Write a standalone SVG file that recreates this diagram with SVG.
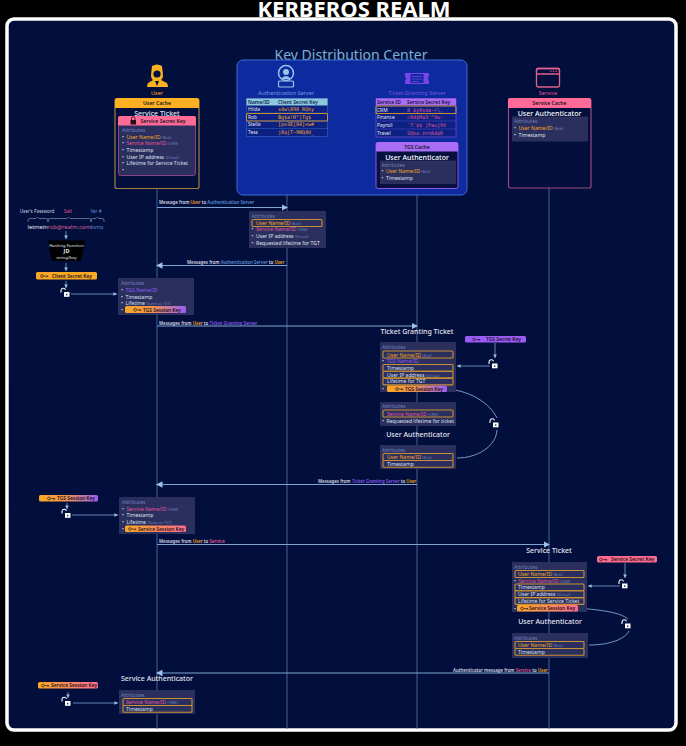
<svg xmlns="http://www.w3.org/2000/svg" width="686" height="746" viewBox="0 0 686 746">
<style>
text{font-family:"Noto Sans","Open Sans","Liberation Sans",sans-serif;fill:#e6e8f2}
.title{font-size:22px;font-weight:700;fill:#fff;text-anchor:middle}
.kdc{font-size:14px;fill:#7fb0d6;text-anchor:middle}
.h{font-size:7px;font-weight:500;fill:#e2e5f0;text-anchor:middle}
.lab{font-size:5.5px;text-anchor:middle}
.sm{font-size:4.500px;text-anchor:middle;fill:#cfd4e4}
.cap{font-size:5.1px;fill:#14121c;text-anchor:middle;font-weight:600}
.a{font-size:5.1px;fill:#dfe2ee;white-space:pre}
.at{font-size:5px;fill:#6f80b8}
.n{font-size:3.700px;fill:#6f80b8}
.m{font-size:4.400px;font-weight:600;fill:#d6dae8}
.t{font-size:4.900px}
.k{font-size:5px;font-family:"DejaVu Sans Mono","Liberation Mono",monospace}
.o{fill:#f5a623}.p{fill:#e0559a}.v{fill:#8a5cf0}.b{fill:#5f90d8}
.blk{fill:#2a2f5e}
.hl{fill:none;stroke:#c98f35;stroke-width:1.1}
.life{stroke:#4f6e9f;stroke-width:.9;fill:none}
.msg{stroke:#7fa6d2;stroke-width:1.1;fill:none;marker-end:url(#ah)}
.thin{stroke:#6d90bf;stroke-width:.9;fill:none;marker-end:url(#ah2)}
.pill{font-size:4.900px;font-weight:600;fill:#15121c}
</style>
<defs>
<marker id="ah" markerWidth="6" markerHeight="6" refX="5" refY="3" orient="auto"><path d="M0 0L6 3L0 6Z" fill="#9cc0e6"/></marker>
<marker id="ah2" markerWidth="5" markerHeight="5" refX="4" refY="2.5" orient="auto"><path d="M0 .5L4 2.5L0 4.5Z" fill="#9cc0e6"/></marker>
<linearGradient id="op"><stop offset="0" stop-color="#f9a825"/><stop offset=".45" stop-color="#f0924a"/><stop offset="1" stop-color="#9a5cf6"/></linearGradient>
<linearGradient id="opk"><stop offset="0" stop-color="#f9a825"/><stop offset="1" stop-color="#ff6b8f"/></linearGradient>
<g id="key"><circle cx="2" cy="2" r="1.4" fill="none" stroke="#15121c" stroke-width=".6"/><path d="M3.4 2H8M6.6 2V3.2M7.800 2V3.2" stroke="#15121c" stroke-width=".6" fill="none"/></g>
<g id="unlock"><path d="M-5-1V-3A2.300 2.300 0 0 1-.5-3.600" fill="none" stroke="#fff" stroke-width="1.100"/><rect x="-2" y="-1.500" width="5.500" height="4.800" fill="#fff"/><rect x=".2" y=".3" width="1.100" height="1.600" fill="#02103a"/></g>
</defs>

<rect width="686" height="746" fill="#000"/>
<rect x="7" y="19" width="669" height="711" rx="7" fill="#020e3b" stroke="#fff" stroke-width="3.500"/>
<text class="title" x="354" y="17">KERBEROS REALM</text>

<g id="connectors">
<path class="life" d="M157 188V729M287 195V729M417 195V729M549 188V729"/>
<path class="msg" d="M157 207.500H287"/>
<path class="msg" d="M287 265.500H157"/>
<path class="msg" d="M157 326H417"/>
<path class="msg" d="M417 484.500H157"/>
<path class="msg" d="M157 544.500H549"/>
<path class="msg" d="M549 673H157"/>
<path class="thin" d="M66 231V239"/><path class="thin" d="M66 263V271"/><path class="thin" d="M66 281V288"/>
<path class="thin" d="M71 294H117"/>
<path class="thin" d="M495 343V358"/><path class="thin" d="M490 366H457"/>
<path class="thin" d="M67 503V509"/><path class="thin" d="M72 515H118"/>
<path class="thin" d="M625 563V578"/><path class="thin" d="M620 586H588"/>
<path class="thin" d="M68 692V698"/><path class="thin" d="M73 703H118"/>
<path d="M447 389C472 391 490 404 497 418" fill="none" stroke="#7fa6d2" stroke-width=".9"/>
<path d="M497 430C496 446 478 458 457 458" fill="none" stroke="#7fa6d2" stroke-width=".9"/>
<path d="M578 608C600 610 620 612 628 619" fill="none" stroke="#7fa6d2" stroke-width=".9"/>
<path d="M629 631C625 639 610 645 589 645" fill="none" stroke="#7fa6d2" stroke-width=".9"/>
<text class="m" x="159" y="204">Message from <tspan class="o">User</tspan> to <tspan class="b">Authentication Server</tspan></text>
<text class="m" x="187" y="264">Messages from <tspan class="b">Authentication Server</tspan> to <tspan class="o">User</tspan></text>
<text class="m" x="159" y="325">Messages from <tspan class="o">User</tspan> to <tspan class="v">Ticket Granting Server</tspan></text>
<text class="m" x="318" y="483">Messages from <tspan class="v">Ticket Granting Server</tspan> to <tspan class="o">User</tspan></text>
<text class="m" x="159" y="543">Messages from <tspan class="o">User</tspan> to <tspan class="p">Service</tspan></text>
<text class="m" x="453" y="671.500">Authenticator message from <tspan class="p">Service</tspan> to <tspan class="o">User</tspan></text>
</g>

<g id="user">
<path d="M152 66Q157 63 162 66L163 75Q163 79 161 80L167 83Q168 85 168 87H147Q147 85 148 83L153 80Q151 79 151 75Z" fill="#f9b022"/>
<circle cx="157" cy="74" r="3.600" fill="#020e3b"/>
<path d="M155 81H159L157 86Z" fill="#020e3b"/>
<text class="lab o" x="157" y="94.500">User</text>
<rect x="115" y="98.500" width="84" height="90" rx="2" fill="#020e3b" stroke="#a47f45" stroke-width="1.200"/>
<path d="M115 108V100.500Q115 98 117 98H197Q199 98 199 100.500V108Z" fill="#fdb022"/>
<text class="cap" x="157" y="105">User Cache</text>
<text class="h" x="157" y="115.800">Service Ticket</text>
<rect x="118.500" y="116.500" width="77" height="59" rx="2" fill="#2a2f5e" stroke="#8e3f86" stroke-width="1"/>
<path d="M118 125.500V118Q118 116 120 116H194Q196 116 196 118V125.500Z" fill="#ff6b96"/>
<rect x="130.500" y="120" width="5.500" height="4.500" fill="#20101c"/><path d="M131.500 120V118.500A1.700 1.700 0 0 1 135 118.500V120" fill="none" stroke="#20101c" stroke-width=".8"/>
<text class="cap" x="163" y="122.800">Service Secret Key</text>
<text class="at" x="122" y="132">Attributes</text>
<text class="a" x="122" y="138.500">•  <tspan class="o">User Name/ID</tspan> <tspan class="n">(Bob)</tspan></text>
<text class="a" x="122" y="145">•  <tspan class="p">Service Name/ID</tspan> <tspan class="n">(CRM)</tspan></text>
<text class="a" x="122" y="152">•  Timestamp</text>
<text class="a" x="122" y="158.500">•  User IP address <tspan class="n">(Virtual)</tspan></text>
<text class="a" x="122" y="165">•  Lifetime for Service Ticket</text>
<text class="a" x="122" y="172">•</text>
</g>

<g id="kdc">
<text class="kdc" x="351" y="60">Key Distribution Center</text>
<rect x="237" y="60" width="230" height="135" rx="6" fill="#0d2a9e" stroke="#3d6fd0" stroke-width="1"/>
</g>

<g id="auth-server">
<circle cx="286" cy="73" r="7.500" fill="none" stroke="#9cc4e8" stroke-width="1.500"/>
<circle cx="286" cy="72" r="3" fill="#9cc4e8"/><path d="M281 79Q286 73 291 79Z" fill="#9cc4e8"/>
<rect x="278.500" y="81" width="15" height="6" rx="1" fill="none" stroke="#9cc4e8" stroke-width="1.200"/>
<text class="lab" x="286" y="94.500" style="fill:#6f9fe0">Authentication Server</text>
<rect x="246.500" y="98.500" width="81" height="38" fill="#0b2080" stroke="#3768c4" stroke-width=".6"/>
<rect x="246.500" y="98.500" width="81" height="7" fill="#8cc8de"/>
<path d="M246.500 113H327.500M246.500 121H327.500M246.500 128.500H327.500" stroke="#3768c4" stroke-width=".5"/>
<text class="t" x="248" y="104" style="fill:#0e1c4e;font-weight:600">Name/ID</text>
<text class="t" x="278" y="104" style="fill:#0e1c4e;font-weight:600">Client Secret Key</text>
<text class="t" x="248" y="110.500">Hilda</text><text class="k o" x="278" y="110.500">x4w\898_RQky</text>
<text class="t" x="248" y="118.500">Rob</text><text class="k o" x="278" y="118.500">Bg$a!R^)Tg$</text>
<text class="t" x="248" y="126">Stella</text><text class="k o" x="278" y="126">[p=3E[84]&lt;w#</text>
<text class="t" x="248" y="134">Tess</text><text class="k o" x="278" y="134">j8q]T~9NQ4U_</text>
<rect x="246.500" y="113.500" width="81" height="7.500" rx="1" class="hl"/>
</g>

<g id="tgs">
<path d="M405 73H429V76Q427 78.500 429 81V84H405V81Q407 78.500 405 76Z" fill="#7a45e8"/>
<rect x="410" y="73.500" width="14" height="10" fill="#0d2a9e" stroke="#7a45e8"/>
<path d="M412 76.500H422M412 79H422M412 81.500H419" stroke="#7a45e8" stroke-width=".8"/>
<text class="lab" x="417" y="94.500" style="fill:#7a55e8">Ticket Granting Server</text>
<rect x="376" y="98.500" width="80" height="38.500" fill="#0b2080" stroke="#8f55e8" stroke-width=".6"/>
<rect x="376" y="98.500" width="80" height="7" fill="#a86cf5"/>
<path d="M376 113.500H456M376 121H456M376 129H456" stroke="#5a4fd0" stroke-width=".5"/>
<text class="t" x="377" y="104" style="fill:#150e40;font-weight:600">Service ID</text>
<text class="t" x="407" y="104" style="fill:#150e40;font-weight:600">Service Secret Key</text>
<text class="t" x="377" y="111.500">CRM</text><text class="k p" x="407" y="111.500">8 $y9sda~(\,</text>
<text class="t" x="377" y="119">Finance</text><text class="k p" x="407" y="119">c84$Ma3'^Vw-</text>
<text class="t" x="377" y="127">Payroll</text><text class="k p" x="407" y="127">`7'$$ ]Pauj9V</text>
<text class="t" x="377" y="134.500">Travel</text><text class="k p" x="407" y="134.500">SQka.zn%64$R</text>
<rect x="376" y="106" width="80" height="7.500" rx="1" class="hl"/>
</g>

<g id="tgs-cache">
<rect x="376" y="142.500" width="82" height="46" rx="2" fill="#061140" stroke="#8f55e8" stroke-width="1"/>
<path d="M376 151.500V144Q376 142 378 142H456Q458 142 458 144V151.500Z" fill="#a86cf5"/>
<text class="cap" x="417" y="149">TGS Cache</text>
<text class="h" x="417" y="159.500" style="fill:#fff">User Authenticator</text>
<rect x="380" y="160.500" width="76" height="23.500" class="blk"/>
<text class="at" x="381.500" y="166.500">Attributes</text>
<text class="a" x="381.500" y="173">•  <tspan class="o">User Name/ID</tspan> <tspan class="n">(Bob)</tspan></text>
<text class="a" x="381.500" y="180">•  Timestamp</text>
</g>

<g id="service">
<rect x="536.500" y="68.500" width="23" height="18.500" rx="2" fill="none" stroke="#e0608f" stroke-width="1.300"/>
<rect x="536.500" y="68.500" width="23" height="5.500" rx="1" fill="none" stroke="#e0608f" stroke-width="1.300"/>
<path d="M550 71.200H551.500M552.700 71.200H554.200M555.400 71.200H556.900" stroke="#e0608f" stroke-width="1"/>
<text class="lab p" x="548" y="94.500">Service</text>
<rect x="508.500" y="98.500" width="82.500" height="89.500" rx="2" fill="#020e3b" stroke="#9a4a80" stroke-width="1.200"/>
<path d="M508 108V100Q508 98 510 98H589Q591 98 591 100V108Z" fill="#ff6b96"/>
<text class="cap" x="549.500" y="105">Service Cache</text>
<text class="h" x="549.500" y="116" style="fill:#fff">User Authenticator</text>
<rect x="512" y="116.500" width="76" height="25" class="blk"/>
<text class="at" x="514" y="123">Attributes</text>
<text class="a" x="514" y="130">•  <tspan class="o">User Name/ID</tspan> <tspan class="n">(Bob)</tspan></text>
<text class="a" x="514" y="137">•  Timestamp</text>
</g>

<g id="client-key-derivation">
<text class="sm" x="37" y="212.500">User's Password</text>
<text class="sm p" x="68" y="212.500">Salt</text>
<text class="sm b" x="96" y="212.500">Ver #</text>
<path d="M28 222V220Q28 218.500 30 218.500H36L37.500 217L39 218.500H46Q48 218.500 48 220V222M48 222V220Q48 218.500 50 218.500H67L68.500 217L70 218.500H89Q91 218.500 91 220V222M91 222V220Q91 218.500 93 218.500H96L97.500 217L99 218.500H102Q104 218.500 104 220V222" fill="none" stroke="#8fa4c8" stroke-width=".6"/>
<text x="27.500" y="229" style="font-size:5.700px">letmein<tspan style="fill:#d9679a">rob@realm.com</tspan><tspan class="b">kvno</tspan></text>
</g>
<g id="hashing-function">
<path d="M48 240.500H85L81 261H52Z" fill="#000"/>
<text x="66.500" y="246.500" text-anchor="middle" style="font-size:4.200px">Hashing Function</text>
<text x="66.500" y="252.500" text-anchor="middle" style="font-size:5.500px;font-weight:700">JD</text>
<text x="66.500" y="259" text-anchor="middle" style="font-size:4.200px">string2key</text>
</g>
<g id="client-secret-key">
<rect x="36" y="272" width="61" height="7.500" rx="1.500" fill="#f9a825"/>
<use href="#key" x="40" y="274"/>
<text class="pill" x="52" y="277.800">Client Secret Key</text>
</g>
<use href="#unlock" x="66" y="293.500"/>

<g id="msg2-attributes">
<rect x="249" y="211" width="77" height="37" class="blk"/>
<text class="at" x="251.500" y="217.500">Attributes</text>
<rect x="252" y="219.500" width="70" height="7" rx="1" class="hl"/>
<text class="a" x="256" y="225"><tspan class="o">User Name/ID</tspan> <tspan class="n">(Bob)</tspan></text>
<text class="a" x="251.500" y="231">•  <tspan class="p">Service Name/ID</tspan> <tspan class="n">(CRM)</tspan></text>
<text class="a" x="251.500" y="238">•  User IP address <tspan class="n">(Virtual)</tspan></text>
<text class="a" x="251.500" y="245">•  Requested lifetime for TGT</text>
</g>

<g id="tgs-session-response">
<rect x="118" y="278" width="76" height="37" class="blk"/>
<text class="at" x="121" y="285">Attributes</text>
<text class="a" x="121" y="292">•  <tspan class="v">TGS Name/ID</tspan></text>
<text class="a" x="121" y="298.500">•  Timestamp</text>
<text class="a" x="121" y="305">•  Lifetime <tspan class="n">(Same as TGT)</tspan></text>
<text class="a" x="121" y="312">•</text>
<rect x="125" y="306" width="61" height="7" rx="1.500" fill="url(#op)"/>
<use href="#key" x="133" y="307.800"/>
<text class="pill" x="143" y="311.600">TGS Session Key</text>
</g>

<g id="ticket-granting-ticket">
<text class="h" x="417" y="333.500">Ticket Granting Ticket</text>
<rect x="380" y="342" width="76" height="50" class="blk"/>
<text class="at" x="382" y="349">Attributes</text>
<rect x="383" y="351" width="70" height="7" rx="1" class="hl"/>
<text class="a" x="387" y="356.500"><tspan class="o">User Name/ID</tspan> <tspan class="n">(Bob)</tspan></text>
<text class="a" x="382" y="363">•  <tspan class="v">TGS Name/ID</tspan></text>
<rect x="383" y="364.500" width="70" height="6.800" rx="1" class="hl"/>
<text class="a" x="387" y="369.800">Timestamp</text>
<rect x="383" y="371.300" width="70" height="6.800" rx="1" class="hl"/>
<text class="a" x="387" y="376.600">User IP address <tspan class="n">(Virtual)</tspan></text>
<rect x="383" y="378.100" width="70" height="6.800" rx="1" class="hl"/>
<text class="a" x="387" y="383.400">Lifetime for TGT</text>
<text class="a" x="382" y="391">•</text>
<rect x="387" y="385.500" width="60" height="6.500" rx="1.500" fill="url(#op)"/>
<use href="#key" x="395" y="387"/>
<text class="pill" x="405" y="390.700">TGS Session Key</text>
</g>

<g id="tgs-secret-key">
<rect x="465" y="336" width="61" height="6.500" rx="1.500" fill="#9b5cf6"/>
<use href="#key" x="472" y="337.500"/>
<text class="pill" x="486" y="341.200">TGS Secret Key</text>
</g>
<use href="#unlock" x="494" y="365"/>

<g id="tgs-request-attributes">
<rect x="380" y="402" width="76" height="24" class="blk"/>
<text class="at" x="382" y="408">Attributes</text>
<rect x="383" y="410" width="70" height="7" rx="1" class="hl"/>
<text class="a" x="387" y="415.500"><tspan class="p">Service Name/ID</tspan> <tspan class="n">(CRM)</tspan></text>
<text class="a" x="382" y="422.500">•  Requested lifetime for ticket</text>
</g>
<use href="#unlock" x="495" y="424"/>

<g id="user-authenticator-tgs">
<text class="h" x="418" y="436.500">User Authenticator</text>
<rect x="380" y="445" width="76" height="24" class="blk"/>
<text class="at" x="382" y="451.500">Attributes</text>
<rect x="383" y="453.500" width="70" height="7" rx="1" class="hl"/>
<text class="a" x="387" y="459"><tspan class="o">User Name/ID</tspan> <tspan class="n">(Bob)</tspan></text>
<rect x="383" y="460.500" width="70" height="6.800" rx="1" class="hl"/>
<text class="a" x="387" y="465.800">Timestamp</text>
</g>

<g id="tgs-session-key-left">
<rect x="39" y="495" width="59" height="6.500" rx="1.500" fill="url(#op)"/>
<use href="#key" x="47" y="496.500"/>
<text class="pill" x="57" y="500.200">TGS Session Key</text>
</g>
<use href="#unlock" x="67" y="514.500"/>

<g id="service-session-response">
<rect x="119" y="497" width="76" height="37" class="blk"/>
<text class="at" x="122" y="504">Attributes</text>
<text class="a" x="122" y="510.500">•  <tspan class="p">Service Name/ID</tspan> <tspan class="n">(CRM)</tspan></text>
<text class="a" x="122" y="517">•  Timestamp</text>
<text class="a" x="122" y="524">•  Lifetime <tspan class="n">(Same as TGT)</tspan></text>
<text class="a" x="122" y="531">•</text>
<rect x="125" y="525.500" width="61" height="6.500" rx="1.500" fill="url(#opk)"/>
<use href="#key" x="128" y="527"/>
<text class="pill" x="138" y="530.700">Service Session Key</text>
</g>

<g id="service-ticket">
<text class="h" x="549" y="553">Service Ticket</text>
<rect x="512" y="562" width="75" height="50" class="blk"/>
<text class="at" x="514" y="569">Attributes</text>
<rect x="515" y="570.500" width="69" height="7" rx="1" class="hl"/>
<text class="a" x="518" y="576"><tspan class="o">User Name/ID</tspan> <tspan class="n">(Bob)</tspan></text>
<text class="a" x="514" y="582.500">•  <tspan class="p">Service Name/ID</tspan> <tspan class="n">(CRM)</tspan></text>
<rect x="515" y="584" width="69" height="6.800" rx="1" class="hl"/>
<text class="a" x="518" y="589.300">Timestamp</text>
<rect x="515" y="590.800" width="69" height="6.800" rx="1" class="hl"/>
<text class="a" x="518" y="596.100">User IP address <tspan class="n">(Virtual)</tspan></text>
<rect x="515" y="597.600" width="69" height="6.800" rx="1" class="hl"/>
<text class="a" x="518" y="602.900">Lifetime for Service Ticket</text>
<text class="a" x="514" y="610.500">•</text>
<rect x="517" y="605" width="61" height="6.500" rx="1.500" fill="url(#opk)"/>
<use href="#key" x="520" y="606.500"/>
<text class="pill" x="529" y="610.200">Service Session Key</text>
</g>

<g id="service-secret-key">
<rect x="597" y="556" width="60" height="6.500" rx="1.500" fill="#ff6b8f"/>
<use href="#key" x="599" y="557.500"/>
<text class="pill" x="611" y="561.200">Service Secret Key</text>
</g>
<use href="#unlock" x="624" y="585"/>
<use href="#unlock" x="627" y="625"/>

<g id="user-authenticator-service">
<text class="h" x="550" y="624">User Authenticator</text>
<rect x="512" y="633" width="76" height="25" class="blk"/>
<text class="at" x="514" y="640">Attributes</text>
<rect x="515" y="641.500" width="69" height="7" rx="1" class="hl"/>
<text class="a" x="518" y="647"><tspan class="o">User Name/ID</tspan> <tspan class="n">(Bob)</tspan></text>
<rect x="515" y="648.500" width="69" height="6.800" rx="1" class="hl"/>
<text class="a" x="518" y="653.800">Timestamp</text>
</g>

<g id="service-session-key-left">
<rect x="38" y="682" width="60" height="6.500" rx="1.500" fill="url(#opk)"/>
<use href="#key" x="41" y="683.500"/>
<text class="pill" x="51" y="687.200">Service Session Key</text>
</g>
<use href="#unlock" x="67" y="702.500"/>

<g id="service-authenticator">
<text class="h" x="157" y="680.500">Service Authenticator</text>
<rect x="119" y="690" width="76" height="24" class="blk"/>
<text class="at" x="121" y="696.500">Attributes</text>
<rect x="123" y="698.500" width="69" height="7" rx="1" class="hl"/>
<text class="a" x="126" y="704"><tspan class="p">Service Name/ID</tspan> <tspan class="n">(CRM)</tspan></text>
<rect x="123" y="705.500" width="69" height="6.800" rx="1" class="hl"/>
<text class="a" x="126" y="710.800">Timestamp</text>
</g>
</svg>
